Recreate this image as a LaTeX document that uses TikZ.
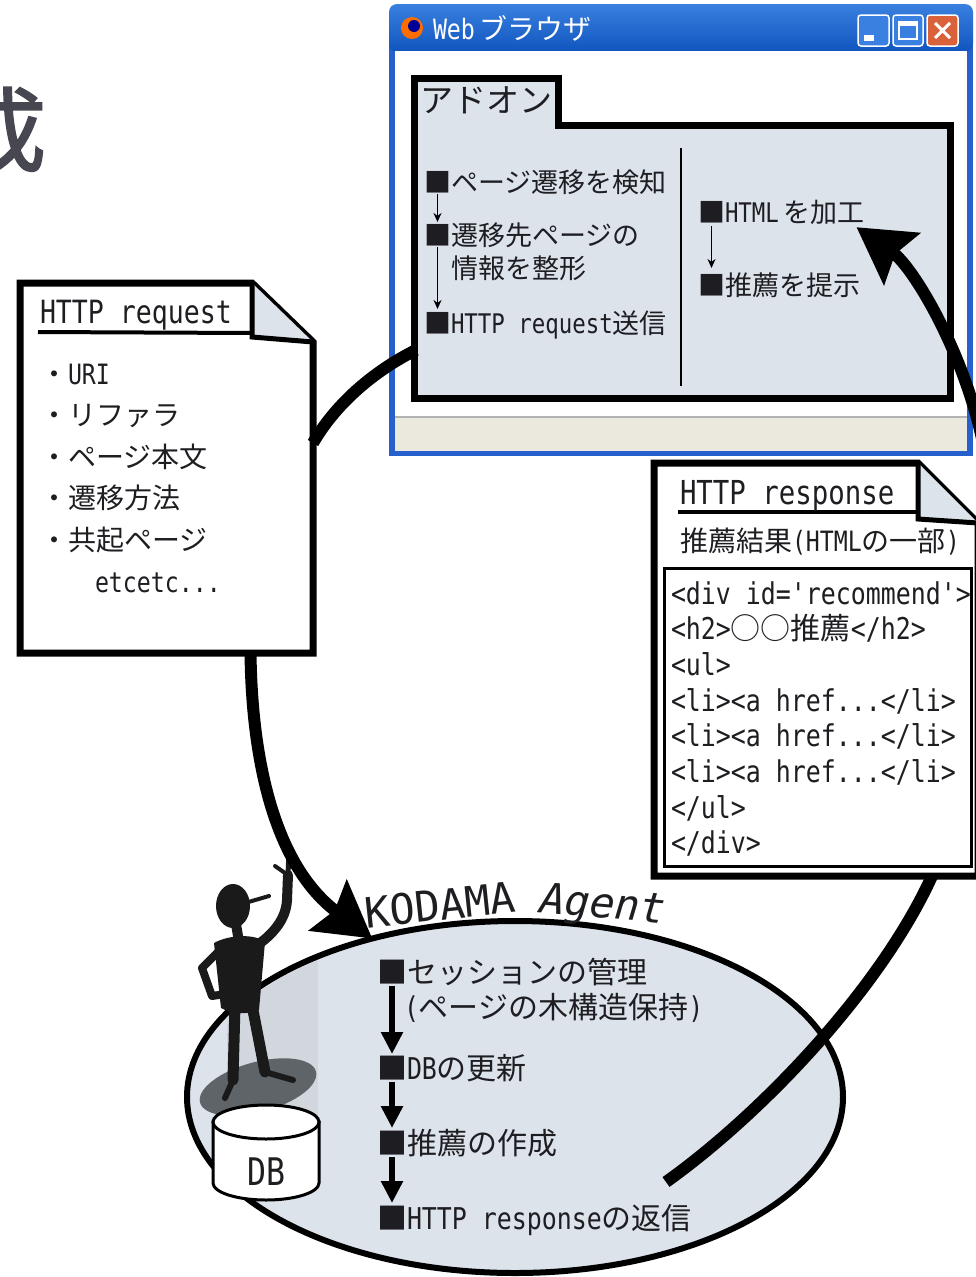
\documentclass[tikz,border=0pt]{standalone}
\usepackage{fontspec}
\setmainfont{Noto Sans CJK JP}
\setmonofont[FakeStretch=0.83]{DejaVu Sans Mono}
\newfontfamily\kodamafont{DejaVu Sans Mono}
\newfontfamily\agentfont[FakeSlant=0.2]{DejaVu Sans Mono}
\newfontfamily\headfont[FakeBold=2]{Noto Sans CJK JP}
\usetikzlibrary{positioning,calc,shapes.geometric,arrows.meta}

\definecolor{ink}{HTML}{1E1E22}
\definecolor{addonfill}{HTML}{DCE3EB}
\definecolor{winblue}{HTML}{2560CC}
\definecolor{bartop}{HTML}{3A80E0}
\definecolor{barbot}{HTML}{0F55BE}
\definecolor{statusbar}{HTML}{EBE9DD}
\definecolor{closered}{HTML}{D9623A}
\definecolor{headgray}{HTML}{474752}
\definecolor{shadowgray}{HTML}{5E6467}
\definecolor{spot}{HTML}{D2D7DE}
\definecolor{figblack}{HTML}{1A1A1A}

\newcommand{\fs}[1]{\fontsize{#1}{#1}\selectfont}

\begin{document}
\begin{tikzpicture}[x=1pt, y=-1pt,
		every node/.style={inner sep=0, outer sep=0, text=ink},
		doc/.style={line width=7pt, fill=white, line join=miter},
		fold/.style={line width=5pt, fill=addonfill, line join=miter},
		link/.style={line width=12pt},
		flow/.style={line width=12pt, -{Stealth[length=55pt, width=62pt, inset=8pt]}},
		stepline/.style={line width=1.8pt, -{Stealth[length=9pt, width=8pt]}},
		agentline/.style={line width=6pt, -{Triangle[length=22pt, width=21pt]}},
		addontxt/.style={anchor=base west, font=\fs{27}},
		reqtxt/.style={anchor=base west, font=\fs{28}},
		codetxt/.style={anchor=base west, font=\fs{30}\ttfamily},
		agenttxt/.style={anchor=base west, font=\fs{30}},
		winbutton/.style={draw=white, line width=1.5pt, rounded corners=3pt}]

		\useasboundingbox (0,0) rectangle (975,1277);

		%Heading (cut off)
		\node[font=\fs{92}\headfont, text=headgray] (heading) at (0,130) {成};

		%Browser window
		\fill[winblue] (389,30) rectangle (973,456);
		\shade[top color=bartop, bottom color=barbot, rounded corners=8pt] (389,4) rectangle (973,52);
		\fill[white] (395,51) rectangle (967,416);
		\fill[statusbar] (395,418) rectangle (967,451);
		\draw[gray!60, line width=2pt] (395,417) -- (967,417);
		\fill[orange!85!red] (412,28) circle (11);
		\fill[blue!60!black] (414,26) circle (6);
		\node[anchor=base west, text=white, font=\fs{28}] (title) at (433,39) {{\ttfamily Web}\,ブラウザ};
		\draw[winbutton, fill=bartop] (858,15) rectangle (889,46);
		\fill[white] (864,35) rectangle (874,41);
		\draw[winbutton, fill=bartop] (893,15) rectangle (923,46);
		\draw[white, line width=2pt] (899,22) rectangle (917,39);
		\fill[white] (899,22) rectangle (917,26);
		\draw[winbutton, fill=closered] (927,15) rectangle (958,46);
		\draw[white, line width=3pt] (935,23) -- (950,38) (950,23) -- (935,38);

		%Add-on folder
		\draw[line width=7pt, fill=addonfill, line join=miter] (414,78) -- (558,78) -- (558,125) -- (950,125) -- (950,398) -- (414,398) -- cycle;
		\draw[line width=2.5pt] (681,148) -- (681,386);
		\node[anchor=base west, font=\fs{33}] (addon) at (420,112) {アドオン};
		\coordinate (addonL) at (416,350);

		\node[addontxt] (a1) at (424,192) {■ページ遷移を検知};
		\node[addontxt] (a2) at (424,245) {■遷移先ページの};
		\node[addontxt] (a3) [below=33pt of a2.base west, anchor=base west, xshift=27pt] {情報を整形};
		\node[addontxt] (a4) at (424,333) {■{\ttfamily HTTP request}送信};
		\node[addontxt] (r1) at (698,222) {■{\ttfamily HTML}\,を加工};
		\node[addontxt] (r2) at (698,295) {■推薦を提示};

		\draw[stepline] ($(a1.base west)+(13.5,2)$) -- ($(a2.base west)+(13.5,-23)$);
		\draw[stepline] ($(a2.base west)+(13.5,2)$) -- ($(a4.base west)+(13.5,-24)$);
		\draw[stepline] ($(r1.base west)+(13.5,4)$) -- ($(r2.base west)+(13.5,-27)$);

		%HTTP request
		\node[minimum width=293pt, minimum height=370pt] (req) at (166.5,468) {};
		\draw[doc] (req.south west) -- (req.north west) -- ($(req.north east)+(-61,0)$) -- ($(req.north east)+(0,59)$) -- (req.south east) -- cycle;
		\draw[fold] ($(req.north east)+(-61,0)$) -- ($(req.north east)+(-61,54)$) -- ($(req.north east)+(0,59)$);
		\draw[line width=4pt] (38,332) -- ($(req.north east)+(-61,50)$);
		\node[anchor=base west, font=\fs{32}\ttfamily] (reqhead) at (40,323) {HTTP request};
		\node[reqtxt] (rq1) at (40,384) {・{\ttfamily URI}};
		\node[reqtxt] (rq2) [below=41.6pt of rq1.base west, anchor=base west] {・リファラ};
		\node[reqtxt] (rq3) [below=41.6pt of rq2.base west, anchor=base west] {・ページ本文};
		\node[reqtxt] (rq4) [below=41.6pt of rq3.base west, anchor=base west] {・遷移方法};
		\node[reqtxt] (rq5) [below=41.6pt of rq4.base west, anchor=base west] {・共起ページ};
		\node[reqtxt] (rq6) [below=41.6pt of rq5.base west, anchor=base west, xshift=55pt] {\ttfamily etcetc...};

		%HTTP response
		\node[minimum width=324pt, minimum height=413pt] (res) at (816,669.5) {};
		\draw[doc] (res.south west) -- (res.north west) -- ($(res.north east)+(-60,0)$) -- ($(res.north east)+(0,60)$) -- (res.south east) -- cycle;
		\draw[fold] ($(res.north east)+(-60,0)$) -- ($(res.north east)+(-60,56)$) -- ($(res.north east)+(0,60)$);
		\draw[line width=4pt] (678,512) -- ($(res.north east)+(-60,49)$);
		\node[anchor=base west, font=\fs{33}\ttfamily] (reshead) at (680,504) {HTTP response};
		\node[anchor=base west, font=\fs{28}] (ressub) at (680,551) {推薦結果{\ttfamily (HTML}の一部{\ttfamily )}};
		\node[draw, line width=3pt, fill=white, minimum width=307pt, minimum height=298pt] (code) at (817.5,717) {};
		\node[codetxt] (c1) at (671,604) {<div id='recommend'>};
		\node[codetxt] (c2) [below=35.7pt of c1.base west, anchor=base west] {<h2>{\rmfamily ○○推薦}</h2>};
		\node[codetxt] (c3) [below=35.7pt of c2.base west, anchor=base west] {<ul>};
		\node[codetxt] (c4) [below=35.7pt of c3.base west, anchor=base west] {<li><a href...</li>};
		\node[codetxt] (c5) [below=35.7pt of c4.base west, anchor=base west] {<li><a href...</li>};
		\node[codetxt] (c6) [below=35.7pt of c5.base west, anchor=base west] {<li><a href...</li>};
		\node[codetxt] (c7) [below=35.7pt of c6.base west, anchor=base west] {</ul>};
		\node[codetxt] (c8) [below=35.7pt of c7.base west, anchor=base west] {</div>};

		%Agent
		\node[ellipse, draw, line width=6pt, fill=addonfill, minimum width=656pt, minimum height=352pt] (agent) at (515,1097) {};
		\begin{scope}
			\clip (agent.center) ellipse [x radius=324, y radius=172];
			\fill[spot] (227,880) rectangle (318,1130);
		\end{scope}
		\fill[shadowgray, rotate around={15:(258,1087)}] (258,1087) ellipse [x radius=60, y radius=25];

		%DB
		\coordinate (dbc) at (266,1172);
		\draw[line width=3pt, fill=white] ($(dbc)+(-53,-50)$) -- ($(dbc)+(-53,11)$) arc[start angle=180, end angle=0, x radius=53, y radius=17] -- ($(dbc)+(53,-50)$) -- cycle;
		\draw[line width=3pt, fill=white] ($(dbc)+(0,-50)$) ellipse [x radius=53, y radius=17];
		\node[font=\fs{38}\ttfamily] (db) at (dbc) {DB};

		%Figure
		\fill[figblack] (233,906) ellipse [x radius=17, y radius=22];
		\draw[figblack, line width=4pt, line cap=round] (245,903) -- (269,896);
		\draw[figblack, line width=10pt] (236,924) -- (239,942);
		\fill[figblack] (214,943) .. controls (230,934) and (256,934) .. (265,942) -- (259,1010) .. controls (246,1015) and (232,1014) .. (221,1008) -- cycle;
		\draw[figblack, line width=10pt, line cap=round] (256,946) .. controls (272,935) and (286,920) .. (287,900) -- (288,875);
		\draw[figblack, line width=5pt, line cap=round] (288,875) -- (289,850);
		\draw[figblack, line width=4pt, line cap=round] (285,873) -- (275,866);
		\draw[figblack, line width=8pt, line cap=round, line join=round] (222,948) -- (202,968) -- (212,996) -- (232,993);
		\draw[figblack, line width=11pt, line cap=round] (235,1005) -- (233,1080);
		\draw[figblack, line width=6pt, line cap=round] (233,1080) -- (225,1098);
		\draw[figblack, line width=11pt, line cap=round, line join=round] (252,1005) -- (265,1072);
		\draw[figblack, line width=6pt, line cap=round] (265,1072) -- (293,1080);

		\node[font=\fs{42}\kodamafont, rotate=6] (kodama) at (440,905) {KODAMA};
		\node[font=\fs{42}\agentfont, rotate=-5] (agentname) at (600,907) {Agent};

		\node[agenttxt] (k1) at (377,983) {■セッションの管理};
		\node[agenttxt] (k2) at (404,1018) {{\ttfamily (}ページの木構造保持{\ttfamily )}};
		\node[agenttxt] (k3) at (377,1079) {■{\ttfamily DB}の更新};
		\node[agenttxt] (k4) at (377,1154) {■推薦の作成};
		\node[agenttxt] (k5) at (377,1229) {■{\ttfamily HTTP response}の返信};

		\draw[agentline] ($(k1.base west)+(15,3)$) -- ($(k3.base west)+(15,-25)$);
		\draw[agentline] ($(k3.base west)+(15,3)$) -- ($(k4.base west)+(15,-26)$);
		\draw[agentline] ($(k4.base west)+(15,3)$) -- ($(k5.base west)+(15,-26)$);

		%Lines
		\draw[link] (addonL) .. controls (372,372) and (335,405) .. ($(req.east)+(0,-25)$);
		\draw[flow] ($(req.south)+(84,0)$) .. controls (252,770) and (278,868) .. (agent.132);
		\draw[link] ($(agent.center)+(151,85)$) .. controls (760,1115) and (880,990) .. ($(res.south)+(116,0)$);
		\draw[flow] ($(res.north east)+(10,10)$) .. controls (975,370) and (915,268) .. ($(r1.south east)+(-8,3)$);
	\end{tikzpicture}
\end{document}
